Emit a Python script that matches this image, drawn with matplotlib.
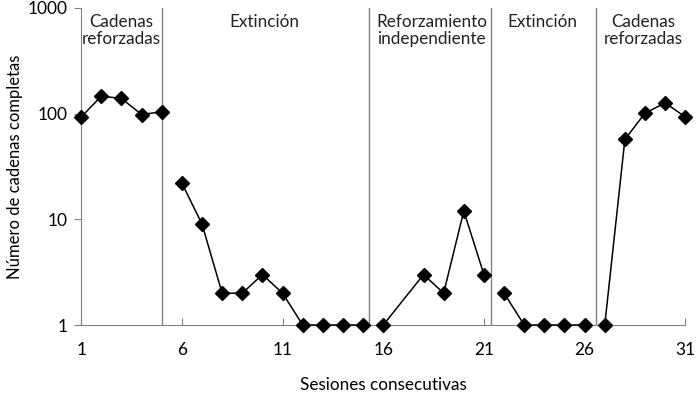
import numpy as np
import matplotlib
matplotlib.use("Agg")
import matplotlib.pyplot as plt

plt.rcParams['font.family'] = ['Lato', 'DejaVu Sans']

# sesiones y cadenas completas por fase
fase1_x = [1, 2, 3, 4, 5]
fase1_y = [93, 146, 139, 98, 104]
fase2_x = [6, 7, 8, 9, 10, 11, 12, 13, 14, 15]
fase2_y = [22, 9, 2, 2, 3, 2, 1, 1, 1, 1]
fase3_x = [16, 18, 19, 20, 21]
fase3_y = [1, 3, 2, 12, 3]
fase4_x = [22, 23, 24, 25, 26]
fase4_y = [2, 1, 1, 1, 1]
fase5_x = [27, 28, 29, 30, 31]
fase5_y = [1, 57, 101, 126, 93]

limites = [5, 15.3, 21.35, 26.55]
etiquetas = ["Cadenas\nreforzadas", "Extinción", "Reforzamiento\nindependiente",
             "Extinción", "Cadenas\nreforzadas"]
pos_etiquetas = [3, 10.1, 18.4, 23.9, 28.9]
xticks = [1, 6, 11, 16, 21, 26, 31]

fig = plt.figure(figsize=(7, 3.93), dpi=100)
ax = fig.add_axes([0.116, 0.173, 0.863, 0.807])

for xs, ys in [(fase1_x, fase1_y), (fase2_x, fase2_y), (fase3_x, fase3_y),
               (fase4_x, fase4_y), (fase5_x, fase5_y)]:
    ax.plot(xs, ys, color='black', lw=1.1, marker='D', ms=7.5,
            markerfacecolor='black', markeredgecolor='black', zorder=3, clip_on=False)

for x in limites:
    ax.axvline(x, color='#808080', lw=1, zorder=1)

for x, t in zip(pos_etiquetas, etiquetas):
    ax.text(x, 880, t, ha='center', va='top', fontsize=12.3, color='#222222',
            linespacing=1.1)

ax.set_yscale('log')
ax.set_ylim(1, 1000)
ax.set_xlim(1, 31)
ax.set_xticks(xticks)
ax.set_xticklabels([str(v) for v in xticks])
ax.set_yticks([1, 10, 100, 1000])
ax.set_yticklabels(['1', '10', '100', '1000'])
ax.yaxis.set_minor_locator(matplotlib.ticker.NullLocator())

for s in ['top', 'right']:
    ax.spines[s].set_visible(False)
for s in ['left', 'bottom']:
    ax.spines[s].set_color('#808080')
ax.tick_params(axis='x', direction='in', length=5, color='#808080',
               labelsize=12.5, pad=12)
ax.tick_params(axis='y', direction='out', length=5, color='#808080',
               labelsize=12.5, pad=5)

ax.set_xlabel('Sesiones consecutivas', fontsize=12.3, labelpad=14)
ax.set_ylabel('Número de cadenas completas', fontsize=12, labelpad=3)

fig.savefig('out.png', dpi=100)
